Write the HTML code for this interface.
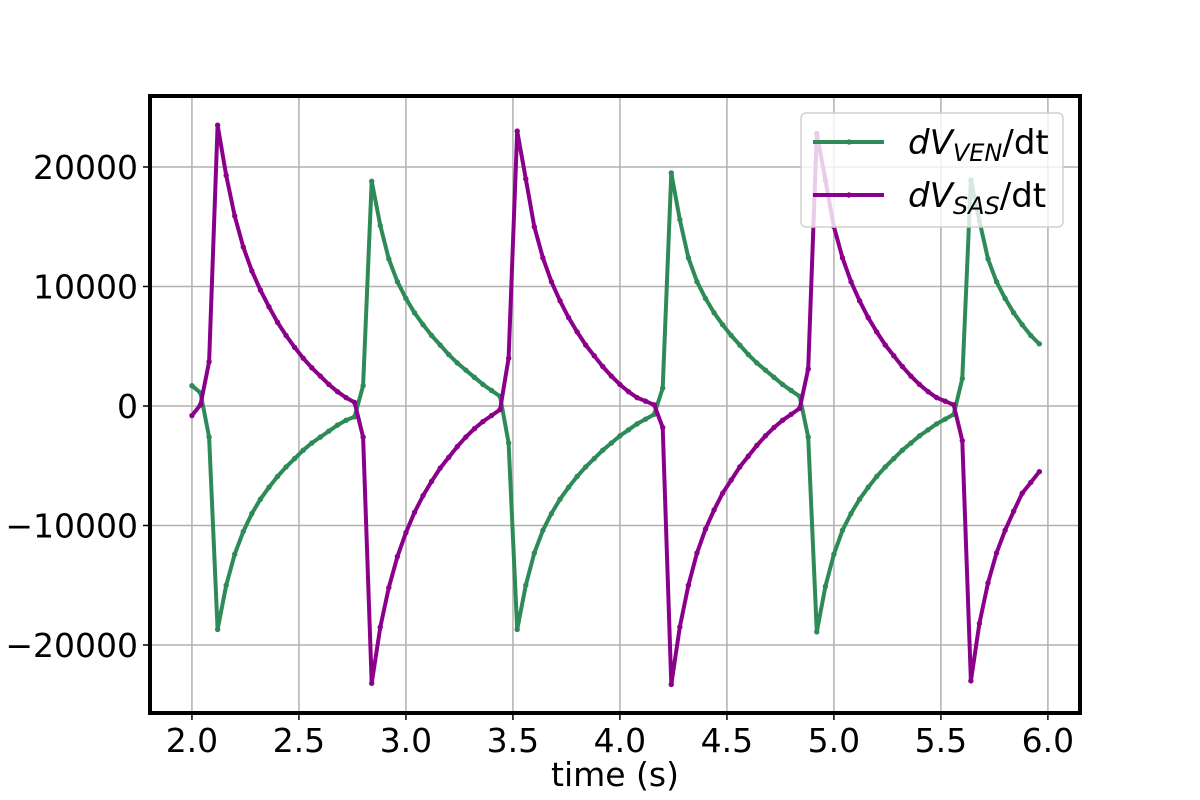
<!DOCTYPE html>
<html><head><meta charset="utf-8"><style>
body{margin:0;background:#fff}
svg{display:block;font-family:"DejaVu Sans","Liberation Sans",sans-serif}
</style></head><body>
<svg id="chart" width="1200" height="800">
<g id="grid"></g><g id="series"></g><g id="axes"></g>
</svg>
<script>
const times = [];
for (let i = 0; i < 100; i++) times.push(+(2 + 0.04 * i).toFixed(2));
const venValues = [1700,1100,-2600,-18700,
-15000,-12400,-10500,-9000,-7800,-6800,-5900,-5100,-4400,-3700,-3100,-2600,-2100,-1600,-1200,-900,
1700,18800,
15100,12300,10400,9000,7800,6800,5900,5100,4300,3600,3000,2400,1800,1300,800,
-3100,-18700,
-15000,-12300,-10400,-9000,-7800,-6800,-5900,-5100,-4400,-3700,-3100,-2500,-2000,-1500,-1100,-700,
1500,19500,
15600,12400,10400,9000,7800,6800,5900,5100,4300,3600,3000,2400,1800,1300,800,
-2600,-18900,
-15100,-12400,-10400,-9000,-7800,-6800,-5900,-5100,-4400,-3700,-3100,-2500,-2000,-1500,-1100,-700,
2300,18900,
15500,12300,10400,9000,7800,6800,5900,5200];
const sasValues = [-800,100,3700,23500,
19300,15900,13300,11300,9700,8300,7000,5900,4900,4000,3200,2500,1800,1200,700,300,
-2600,-23200,
-18500,-15200,-12600,-10600,-8900,-7500,-6300,-5200,-4300,-3400,-2600,-1900,-1300,-800,-300,
4000,23000,
19000,15000,12400,10400,8800,7400,6200,5100,4200,3300,2500,1800,1200,700,400,100,
-1800,-23300,
-18500,-15000,-12300,-10300,-8700,-7300,-6200,-5100,-4200,-3300,-2500,-1800,-1200,-700,-200,
3100,22800,
18900,15000,12400,10400,8800,7400,6200,5100,4200,3300,2500,1800,1200,700,400,100,
-2900,-23000,
-18200,-14800,-12300,-10400,-8800,-7300,-6400,-5500];
const xTicks = [2.0,2.5,3.0,3.5,4.0,4.5,5.0,5.5,6.0];
const yTicks = [-20000,-10000,0,10000,20000];

const L=150,R=1080,T=96,B=713;
const X0=1.804,X1=6.15,Y0=-25690,Y1=25940;
const sx=v=>L+(v-X0)/(X1-X0)*(R-L);
const sy=v=>B-(v-Y0)/(Y1-Y0)*(B-T);
const NS="http://www.w3.org/2000/svg";
function mk(tag,attrs,parent){const e=document.createElementNS(NS,tag);for(const k in attrs)e.setAttribute(k,attrs[k]);parent.appendChild(e);return e;}
const grid=document.getElementById('grid'),ser=document.getElementById('series'),ax=document.getElementById('axes');
const fmt=v=>v<0?'\u2212'+Math.abs(v):String(v);
xTicks.forEach(t=>{
  const x=sx(t);
  const g=mk('line',{x1:x,x2:x,y1:T,y2:B,stroke:'#b0b0b0','stroke-width':1.5},grid);
  
  
  const tk=mk('line',{x1:x,x2:x,y1:B,y2:B+7,stroke:'#000','stroke-width':1.5},ax);
  
  
  const lb=mk('text',{x:x,y:B+39,'font-size':33,'text-anchor':'middle'},ax);
  lb.textContent=t.toFixed(1);
  
  
});
yTicks.forEach(t=>{
  const y=sy(t);
  const g=mk('line',{x1:L,x2:R,y1:y,y2:y,stroke:'#b0b0b0','stroke-width':1.5},grid);
  
  
  const tk=mk('line',{x1:L-7,x2:L,y1:y,y2:y,stroke:'#000','stroke-width':1.5},ax);
  
  
  const lb=mk('text',{x:L-12,y:y+12,'font-size':33,'text-anchor':'end'},ax);
  lb.textContent=fmt(t);
  
  
});
function drawSeries(vals,color,name){
  const g=mk('g',{},ser);
  
  
  const pts=vals.map((v,i)=>sx(times[i]).toFixed(1)+','+sy(v).toFixed(1)).join(' ');
  const pl=mk('polyline',{points:pts,fill:'none',stroke:color,'stroke-width':4,'stroke-linejoin':'round'},g);
  
  
  vals.forEach((v,i)=>{
    const c=mk('circle',{cx:sx(times[i]),cy:sy(v),r:2.7,fill:color},g);
    
    
  });
}
drawSeries(venValues,'#2e8b57','dvven-series');
drawSeries(sasValues,'#8b008b','dvsas-series');
const fr=mk('rect',{x:L,y:T,width:R-L,height:B-T,fill:'none',stroke:'#000','stroke-width':4},ax);


const xt=mk('text',{x:(L+R)/2,y:786,'font-size':33,'text-anchor':'middle'},ax);
xt.textContent='time (s)';


const lg=mk('g',{},ax);


mk('rect',{x:801,y:113,width:262,height:114,rx:5,fill:'rgba(255,255,255,0.8)',stroke:'#d0d0d0','stroke-width':1.5},lg);
const ent=[['#2e8b57','VEN',142],['#8b008b','SAS',195]];
ent.forEach(([c,sub,y])=>{
  const e=mk('g',{},lg);
  
  
  mk('line',{x1:813,x2:884,y1:y,y2:y,stroke:c,'stroke-width':4},e);
  mk('circle',{cx:849,cy:y,r:2.7,fill:c},e);
  const t=mk('text',{x:908,y:y+12,'font-size':34},e);
  t.innerHTML='<tspan font-style="italic">dV</tspan><tspan font-style="italic" font-size="24" dy="7">'+sub+'</tspan><tspan dy="-7">/dt</tspan>';
});
</script>
</body></html>
